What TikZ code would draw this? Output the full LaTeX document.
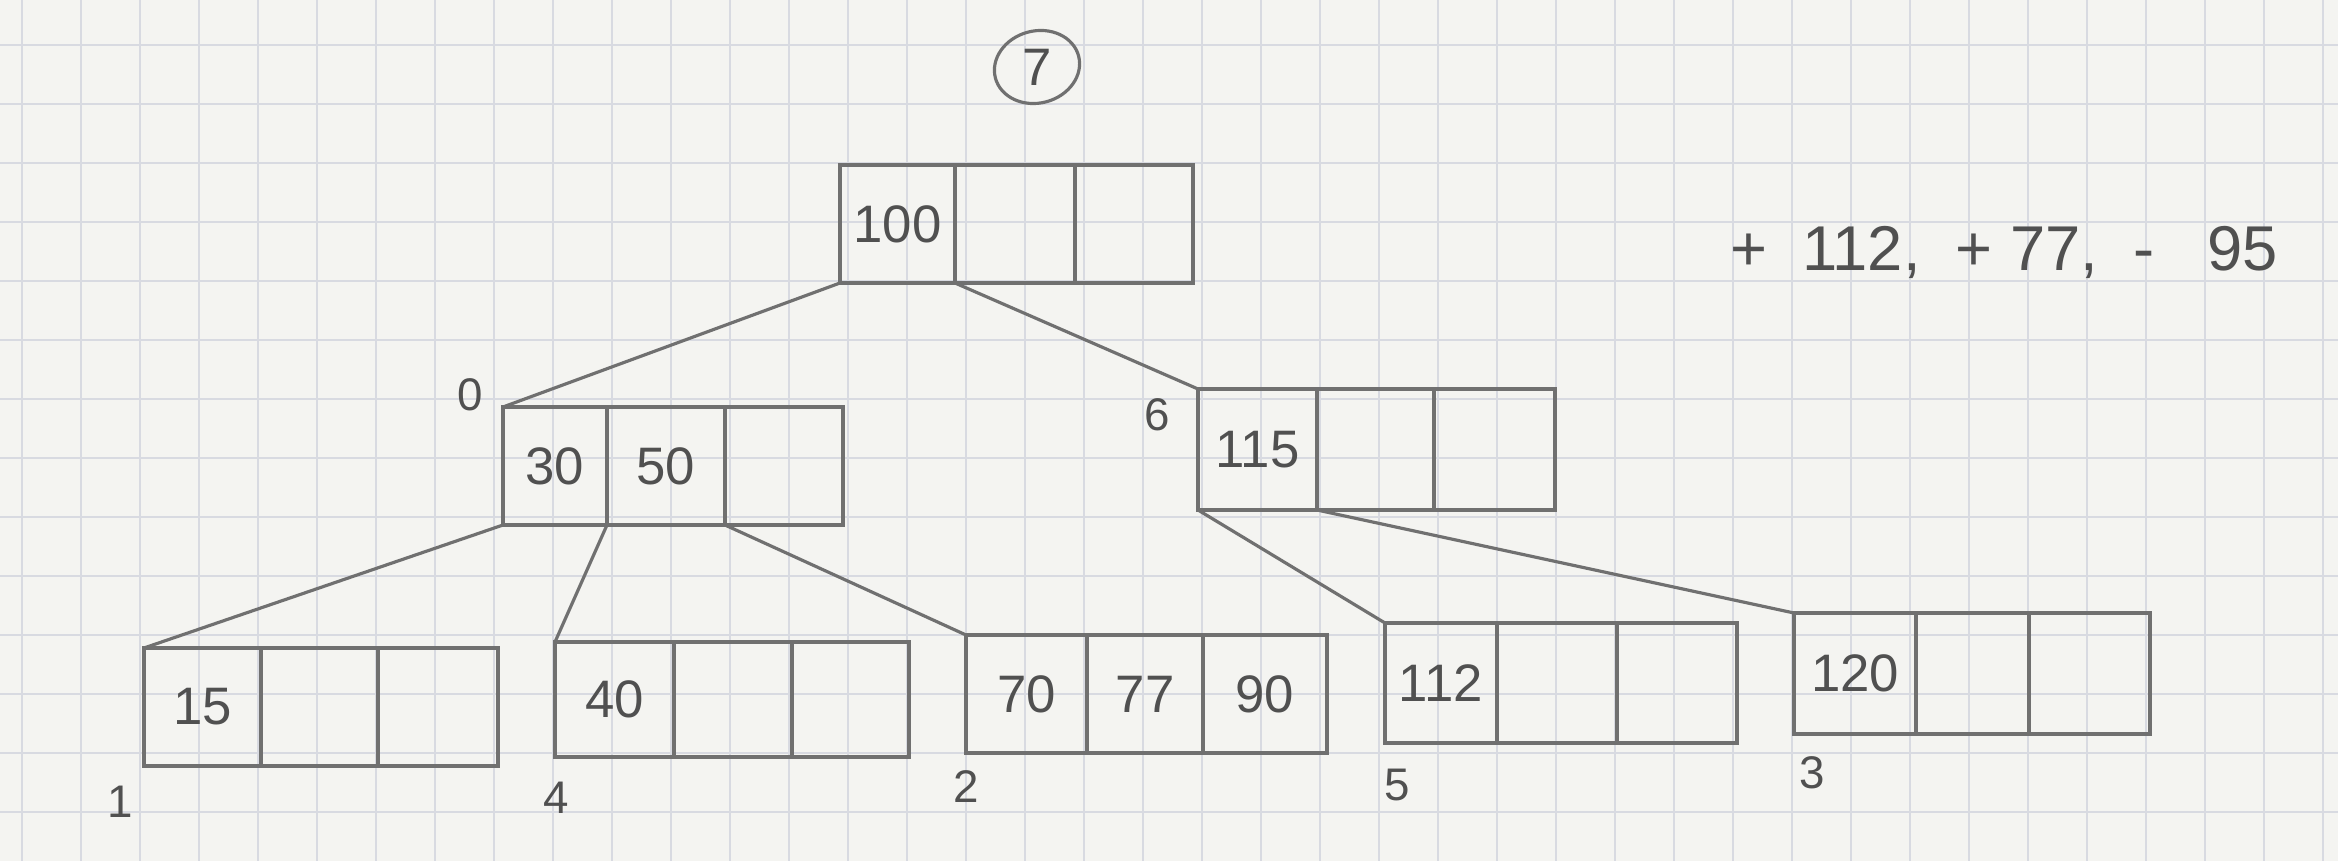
\documentclass[tikz,border=0pt]{standalone}
\usepackage{fontspec}
\setmainfont{Liberation Sans}
\usetikzlibrary{shapes.geometric}
\definecolor{paper}{HTML}{F4F4F1}
\definecolor{gridc}{HTML}{D8DAE1}
\definecolor{pencil}{HTML}{707070}
\definecolor{ink}{HTML}{505050}
\tikzset{
 cellbox/.style={draw=pencil, line width=1.1pt, inner sep=0pt, outer sep=0pt, font=\fontsize{15}{15}\selectfont, text=ink},
 link/.style={draw=pencil, line width=0.9pt},
 lbl/.style={font=\fontsize{13}{13}\selectfont, text=ink, inner sep=0pt},
 gridline/.style={draw=gridc, line width=0.5pt},
}
\newcommand\bcell[6]{\node[cellbox, minimum width={(#3-#2)*0.01cm}, minimum height={(#5-#4)*0.01cm}] (#1) at ({(#2+#3)/2},{(#4+#5)/2}) {#6};}
\begin{document}
\begin{tikzpicture}[x=0.01cm,y=-0.01cm]
\fill[paper] (0,0) rectangle (2338,861);
\useasboundingbox (0,0) rectangle (2338,861);
\foreach \i in {0,...,39} \draw[gridline] ({22+59*\i},0) -- ({22+59*\i},861);
\foreach \j in {0,...,13} \draw[gridline] (0,{45+59*\j}) -- (2338,{45+59*\j});
% page number
\node[draw=pencil, line width=0.9pt, ellipse, minimum width=0.86cm, minimum height=0.72cm, rotate=15, inner sep=0pt] (pg) at (1037,67) {};
\node[font=\fontsize{15}{15}\selectfont, text=ink] (pgn) at (1037,67) {7};
% operations
\node[font=\fontsize{18}{18}\selectfont, text=ink] (ops) at (2004,252) {+\ \ 112,\ \ +\ 77,\ \ -\ \ \ 95};
% root
\bcell{r1}{840}{955}{165}{283}{100}
\bcell{r2}{955}{1075}{165}{283}{}
\bcell{r3}{1075}{1193}{165}{283}{}
% node 0
\bcell{a1}{503}{607}{407}{525}{30}
\bcell{a2}{607}{725}{407}{525}{50}
\bcell{a3}{725}{843}{407}{525}{}
% node 6
\bcell{b1}{1198}{1317}{389}{510}{115}
\bcell{b2}{1317}{1434}{389}{510}{}
\bcell{b3}{1434}{1555}{389}{510}{}
% node 1
\bcell{c1}{144}{261}{648}{766}{15}
\bcell{c2}{261}{378}{648}{766}{}
\bcell{c3}{378}{498}{648}{766}{}
% node 4
\bcell{d1}{555}{674}{642}{757}{40}
\bcell{d2}{674}{792}{642}{757}{}
\bcell{d3}{792}{909}{642}{757}{}
% node 2
\bcell{e1}{966}{1087}{635}{753}{70}
\bcell{e2}{1087}{1203}{635}{753}{77}
\bcell{e3}{1203}{1327}{635}{753}{90}
% node 5
\bcell{f1}{1385}{1497}{623}{743}{112}
\bcell{f2}{1497}{1617}{623}{743}{}
\bcell{f3}{1617}{1737}{623}{743}{}
% node 3
\bcell{g1}{1794}{1916}{613}{734}{120}
\bcell{g2}{1916}{2029}{613}{734}{}
\bcell{g3}{2029}{2150}{613}{734}{}
% connectors
\draw[link] (r1.south west) -- (a1.north west);
\draw[link] (r1.south east) -- (b1.north west);
\draw[link] (a1.south west) -- (c1.north west);
\draw[link] (a1.south east) -- (d1.north west);
\draw[link] (a2.south east) -- (e1.north west);
\draw[link] (b1.south west) -- (f1.north west);
\draw[link] (b1.south east) -- (g1.north west);
% node numbers
\node[lbl] (l0) at (470,395) {0};
\node[lbl] (l6) at (1157,415) {6};
\node[lbl] (l1) at (120,802) {1};
\node[lbl] (l4) at (556,798) {4};
\node[lbl] (l2) at (966,787) {2};
\node[lbl] (l5) at (1397,785) {5};
\node[lbl] (l3) at (1812,773) {3};
\end{tikzpicture}
\end{document}
